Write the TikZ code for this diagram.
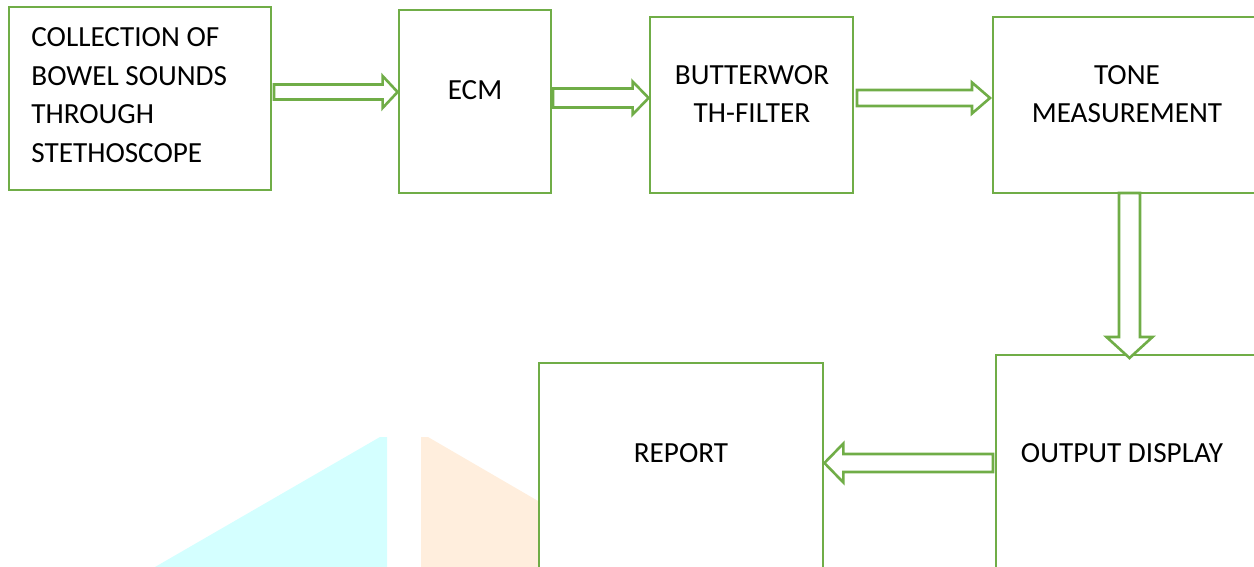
\documentclass[tikz,border=0pt]{standalone}
\usepackage{fontspec}
\setmainfont{Carlito}
\usetikzlibrary{calc}
\definecolor{boxgreen}{HTML}{70AD47}
\definecolor{wmcyan}{HTML}{D4FFFF}
\definecolor{wmorange}{HTML}{FFEEDD}
\tikzset{
  blk/.style={draw=boxgreen, line width=1.4pt, fill=white, minimum width=#1, inner sep=0pt},
  txt/.style={font=\fontsize{14.6pt}{19.25pt}\selectfont, align=center, inner sep=0pt},
  barrow/.style={draw=boxgreen, line width=1.3pt, fill=white, line join=miter}
}
% horizontal block arrow: tail, tip, half shaft, half head, head length (negative for leftward)
\newcommand\harrowblk[5]{%
  \draw[barrow] ($(#1)+(0,-#3)$) -- ($(#2)+(-#5,-#3)$) -- ($(#2)+(-#5,-#4)$) -- (#2)
    -- ($(#2)+(-#5,#4)$) -- ($(#2)+(-#5,#3)$) -- ($(#1)+(0,#3)$) -- cycle;}
% vertical (downward) block arrow
\newcommand\varrowblk[5]{%
  \draw[barrow] ($(#1)+(-#3,0)$) -- ($(#2)+(-#3,-#5)$) -- ($(#2)+(-#4,-#5)$) -- (#2)
    -- ($(#2)+(#4,-#5)$) -- ($(#2)+(#3,-#5)$) -- ($(#1)+(#3,0)$) -- cycle;}
\begin{document}
\begin{tikzpicture}[x=0.5pt,y=-0.5pt]
\useasboundingbox (0,0) rectangle (1254,567);
\clip (0,0) rectangle (1254,567);
% watermark shapes
\fill[wmcyan] (155,567) -- (380,437) -- (387,437) -- (387,567) -- cycle;
\fill[wmorange] (421,567) -- (421,437) -- (428,437) -- (545,505) -- (545,567) -- cycle;
% boxes
\node[blk=131pt, minimum height=91.5pt] (b1) at (140,98.5) {};
\node[blk=76pt, minimum height=91.5pt] (b2) at (475,101.5) {};
\node[blk=101.5pt, minimum height=88pt] (b3) at (751.5,105) {};
\node[blk=132pt, minimum height=88pt] (b4) at (1125,105) {};
\node[blk=132pt, minimum height=108pt] (b5) at (1128,463) {};
\node[blk=142pt, minimum height=106pt] (b6) at (681,469) {};
% texts
\node[txt, align=left, anchor=west] (t1) at (31,95) {COLLECTION OF\\BOWEL SOUNDS\\THROUGH\\STETHOSCOPE};
\node[txt] (t2) at (475,90) {ECM};
\node[txt] (t3) at (752,94) {BUTTERWOR\\TH-FILTER};
\node[txt] (t4) at (1127,94) {TONE\\MEASUREMENT};
\node[txt] (t5) at (1122,453) {OUTPUT DISPLAY};
\node[txt] (t6) at (681,453) {REPORT};
% arrow end points
\coordinate (a1s) at (274,92);
\coordinate (a1e) at (b2.west |- a1s);
\coordinate (a2s) at (553,98);
\coordinate (a2e) at (b3.west |- a2s);
\coordinate (a3s) at (857,98);
\coordinate (a3e) at (990,98);
\coordinate (a4s) at (1129.5,193);
\coordinate (a4e) at (1129.5,358);
\coordinate (a5s) at (993,463);
\coordinate (a5e) at (b6.east |- a5s);
% arrows
\harrowblk{a1s}{a1e}{7.5}{16}{15}
\harrowblk{a2s}{a2e}{9.5}{16.5}{16}
\harrowblk{a3s}{a3e}{8}{15.5}{18}
\varrowblk{a4s}{a4e}{10.5}{23}{21}
\harrowblk{a5s}{a5e}{9}{19.5}{-19}
\end{tikzpicture}
\end{document}
